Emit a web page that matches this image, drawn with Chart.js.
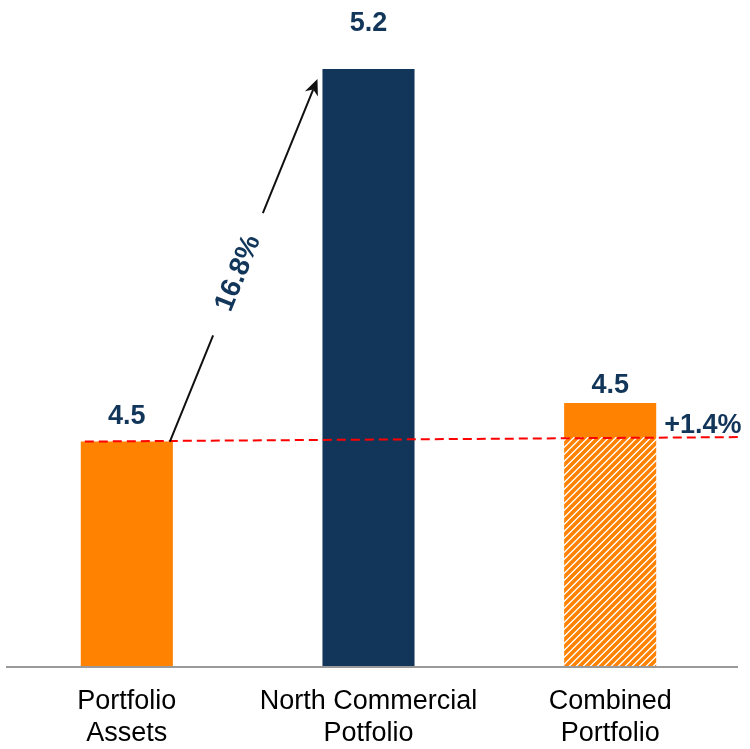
<!DOCTYPE html>
<html>
<head>
<meta charset="utf-8">
<script src="https://cdn.jsdelivr.net/npm/chart.js@4.4.1/dist/chart.umd.min.js"></script>
<style>
  html, body { margin: 0; padding: 0; background: #ffffff; }
  #wrap { width: 750px; height: 749px; }
</style>
</head>
<body>
<div id="wrap"><canvas id="c" width="750" height="749"></canvas></div>
<script>
// ---- data ----
const categories = [["Portfolio", "Assets"], ["North Commercial", "Potfolio"], ["Combined", "Portfolio"]];
const baseValues = [4.455, 5.21, 4.464];     // bar (or hatched base) height
const addedValues = [0, 0, 0.069];           // solid increment on combined bar
const valueLabels = ["4.5", "5.2", "4.5"];
const growthLabel = "16.8%";
const combinedLabel = "+1.4%";
const yMin = 4.0;
const yMax = 5.35;

// ---- styles ----
const ORANGE = "#FF8200";
const NAVY = "#12365A";
const FONT = "'Liberation Sans', Arial, Helvetica, sans-serif";

function makeHatch() {
  const s = 7;
  const c = document.createElement("canvas");
  c.width = s; c.height = s;
  const g = c.getContext("2d");
  g.fillStyle = "#ffffff";
  g.fillRect(0, 0, s, s);
  g.strokeStyle = ORANGE;
  g.lineWidth = 3.6;
  g.beginPath();
  g.moveTo(0, s); g.lineTo(s, 0);
  g.moveTo(-s / 2, s / 2); g.lineTo(s / 2, -s / 2);
  g.moveTo(s / 2, s + s / 2); g.lineTo(s + s / 2, s / 2);
  g.stroke();
  return g.createPattern(c, "repeat");
}
const hatch = makeHatch();

const annotations = {
  id: "annotations",
  afterDatasetsDraw(chart) {
    const ctx = chart.ctx;
    const y = chart.scales.y;
    const bars = chart.getDatasetMeta(0).data;
    ctx.save();

    // baseline
    ctx.strokeStyle = "#9a9a9a";
    ctx.lineWidth = 2;
    ctx.beginPath();
    ctx.moveTo(6, chart.chartArea.bottom + 1);
    ctx.lineTo(738, chart.chartArea.bottom + 1);
    ctx.stroke();

    // red dashed reference line
    const pa = bars[0];
    const yPA = y.getPixelForValue(baseValues[0]);
    const yCB = y.getPixelForValue(baseValues[2]);
    ctx.strokeStyle = "#FF0000";
    ctx.lineWidth = 2;
    ctx.setLineDash([9, 5]);
    ctx.beginPath();
    ctx.moveTo(pa.x - pa.width / 2 + 4, yPA);
    ctx.lineTo(740, yCB);
    ctx.stroke();
    ctx.setLineDash([]);

    // value labels above bars
    const gaps = [18, 38, 10];
    ctx.fillStyle = NAVY;
    ctx.font = "bold 27px " + FONT;
    ctx.textAlign = "center";
    ctx.textBaseline = "alphabetic";
    for (let i = 0; i < bars.length; i++) {
      const topVal = baseValues[i] + addedValues[i];
      const yt = y.getPixelForValue(topVal);
      ctx.fillText(valueLabels[i], bars[i].x, yt - gaps[i]);
    }

    // +1.4% label
    const cb = bars[2];
    ctx.textAlign = "left";
    ctx.fillText(combinedLabel, cb.x + cb.width / 2 + 8, yCB - 4);

    // arrow from PA top to NC top
    const nc = bars[1];
    const x0 = pa.x + pa.width / 2 - 3, y0 = yPA;
    const x1 = nc.x - nc.width / 2 - 5, y1 = y.getPixelForValue(baseValues[1]) + 10;
    const dx = x1 - x0, dy = y1 - y0;
    const len = Math.sqrt(dx * dx + dy * dy);
    const ux = dx / len, uy = dy / len;
    const g0 = 0.293, g1 = 0.63;
    const headLen = 16, headW = 7;
    ctx.strokeStyle = "#111111";
    ctx.lineWidth = 2;
    ctx.beginPath();
    ctx.moveTo(x0, y0);
    ctx.lineTo(x0 + dx * g0, y0 + dy * g0);
    ctx.moveTo(x0 + dx * g1, y0 + dy * g1);
    ctx.lineTo(x1 - ux * headLen * 0.7, y1 - uy * headLen * 0.7);
    ctx.stroke();
    ctx.fillStyle = "#111111";
    ctx.beginPath();
    ctx.moveTo(x1, y1);
    ctx.lineTo(x1 - ux * headLen - uy * headW, y1 - uy * headLen + ux * headW);
    ctx.lineTo(x1 - ux * headLen * 0.7, y1 - uy * headLen * 0.7);
    ctx.lineTo(x1 - ux * headLen + uy * headW, y1 - uy * headLen - ux * headW);
    ctx.closePath();
    ctx.fill();

    // rotated growth label
    const mx = x0 + dx * 0.464, my = y0 + dy * 0.464;
    ctx.translate(mx, my);
    ctx.rotate(Math.atan2(dy, dx));
    ctx.fillStyle = NAVY;
    ctx.font = "bold 28px " + FONT;
    ctx.textAlign = "center";
    ctx.textBaseline = "middle";
    ctx.fillText(growthLabel, 0, 0);
    ctx.restore();
  }
};

new Chart(document.getElementById("c"), {
  type: "bar",
  data: {
    labels: categories,
    datasets: [
      {
        label: "Base",
        data: baseValues,
        backgroundColor: [ORANGE, NAVY, hatch],
        borderWidth: 0,
        barPercentage: 0.381,
        categoryPercentage: 1.0
      },
      {
        label: "Increase",
        data: addedValues,
        backgroundColor: ORANGE,
        borderWidth: 0,
        barPercentage: 0.381,
        categoryPercentage: 1.0
      }
    ]
  },
  options: {
    responsive: false,
    animation: false,
    devicePixelRatio: 1,
    layout: { padding: { left: 6, right: 19, top: 0, bottom: 0 } },
    plugins: { legend: { display: false }, tooltip: { enabled: false } },
    scales: {
      x: {
        stacked: true,
        grid: { display: false, drawTicks: false },
        border: { display: false },
        ticks: {
          color: "#000000",
          font: { family: FONT, size: 27, lineHeight: 1.17 },
          padding: 20,
          autoSkip: false,
          maxRotation: 0
        },
        afterFit(scale) { scale.height = 83; }
      },
      y: {
        stacked: true,
        display: false,
        min: yMin,
        max: yMax
      }
    }
  },
  plugins: [annotations]
});
</script>
</body>
</html>
